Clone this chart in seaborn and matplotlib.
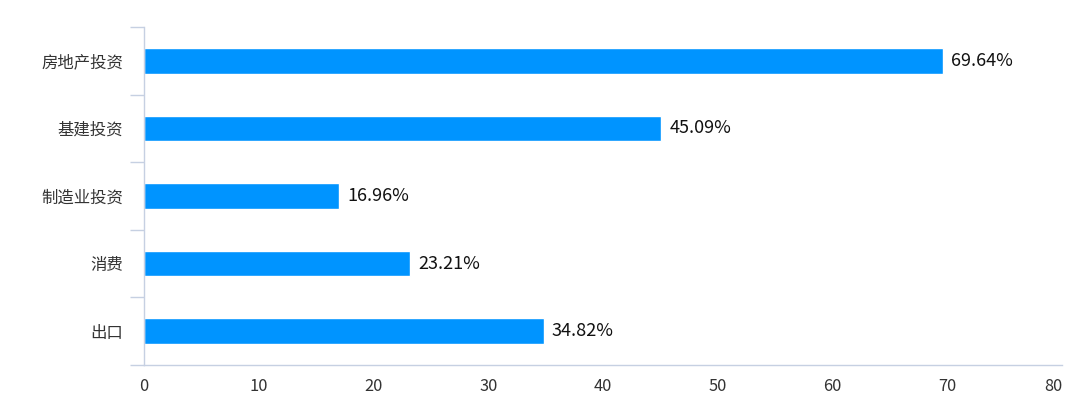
import matplotlib
matplotlib.use("Agg")
import matplotlib.pyplot as plt
import seaborn as sns
import pandas as pd

# categories and shares (%), top to bottom
categories = ["房地产投资", "基建投资", "制造业投资", "消费", "出口"]
values = [69.64, 45.09, 16.96, 23.21, 34.82]
x_ticks = [0, 10, 20, 30, 40, 50, 60, 70, 80]

df = pd.DataFrame({"cat": categories, "val": values})

sns.set_style("white")
plt.rcParams["font.family"] = ["Noto Sans CJK SC", "DejaVu Sans"]

axis_col = "#C6D0E2"
text_col = "#333333"

fig = plt.figure(figsize=(10.68, 3.99), dpi=100)
ax = fig.add_axes([0.1348, 0.0852, 0.9944 - 0.1348, 0.9323 - 0.0852])

sns.barplot(data=df, x="val", y="cat", orient="h", color="#0094FF",
            saturation=1, width=0.38, ax=ax)

# value labels
for i, v in enumerate(values):
    ax.annotate(f"{v:.2f}%", (v, i), xytext=(6, 0), textcoords="offset points",
                va="center", ha="left", fontsize=13, color="#111111")

ax.set_xlim(0, 80)
ax.set_ylim(len(categories) - 0.5, -0.5)
ax.set_xticks(x_ticks)
ax.set_xticklabels([str(t) for t in x_ticks])
ax.set_xlabel("")
ax.set_ylabel("")

# boundary ticks on the y axis
ax.set_yticks([i - 0.5 for i in range(len(categories) + 1)], minor=True)
ax.tick_params(axis="y", which="minor", left=True, length=10, width=1, color=axis_col)
ax.tick_params(axis="y", which="major", left=False, length=0, pad=15, labelsize=11.8, labelcolor=text_col)
ax.tick_params(axis="x", which="both", bottom=False, length=0, pad=9, labelsize=11.8, labelcolor=text_col)

for s in ["top", "right"]:
    ax.spines[s].set_visible(False)
for s in ["left", "bottom"]:
    ax.spines[s].set_color(axis_col)
    ax.spines[s].set_linewidth(1)

ax.grid(False)

# keep last x label inside the canvas
ax.get_xticklabels()[-1].set_horizontalalignment("right")

fig.savefig("out.png", dpi=100)
